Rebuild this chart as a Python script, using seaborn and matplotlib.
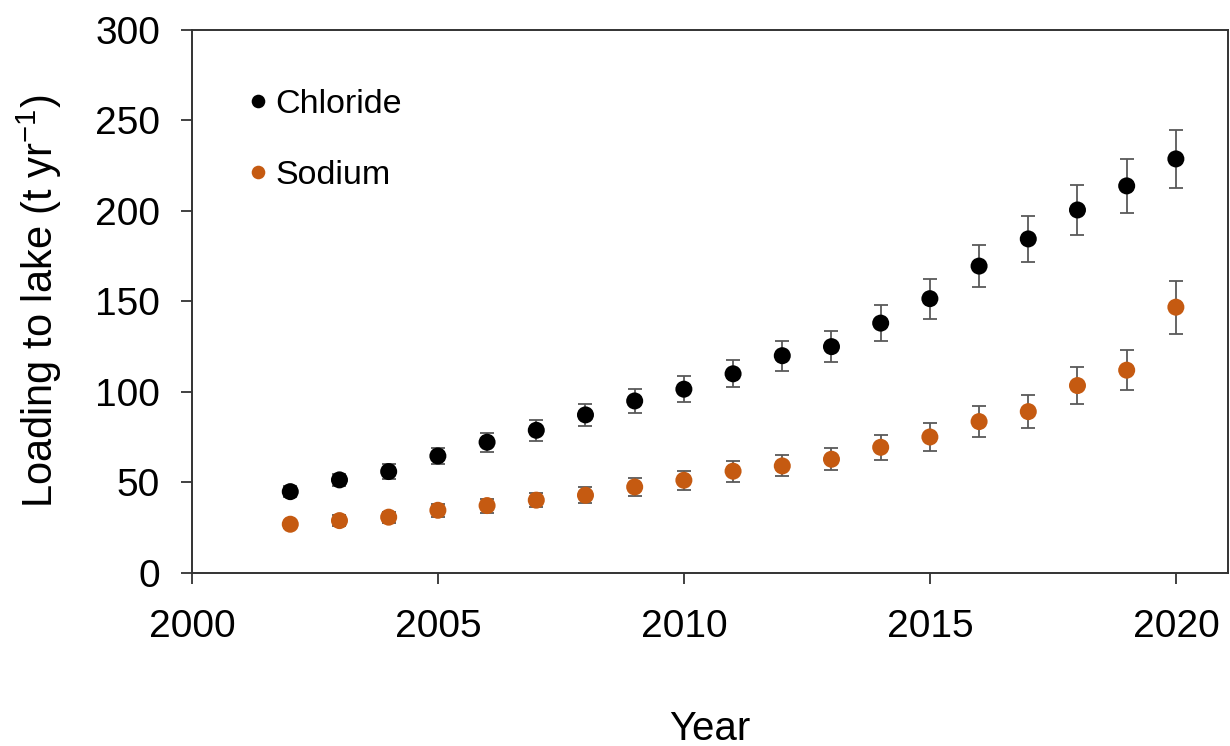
import numpy as np
import pandas as pd
import matplotlib
matplotlib.use("Agg")
import matplotlib.pyplot as plt
import seaborn as sns

years = list(range(2002, 2021))
chloride = [44.9, 51.4, 56.0, 64.6, 72.2, 78.8, 87.3, 95.0, 101.5, 110.0, 120.0, 125.0,
            138.0, 151.5, 169.5, 184.5, 200.5, 213.8, 228.7]
chloride_err = [3.0, 3.4, 4.0, 4.4, 5.2, 5.7, 6.2, 6.7, 7.1, 7.5, 8.3, 8.5,
                10.0, 11.0, 11.7, 12.7, 14.0, 15.0, 16.0]
sodium = [26.9, 28.9, 30.8, 34.6, 37.2, 40.2, 42.9, 47.5, 51.2, 56.2, 59.1, 62.8,
          69.4, 75.1, 83.6, 89.1, 103.5, 112.0, 146.8]
sodium_err = [2.0, 3.0, 3.1, 3.5, 3.9, 4.0, 4.3, 4.8, 5.2, 5.7, 5.8, 6.2,
              7.0, 7.6, 8.5, 9.0, 10.4, 10.9, 14.6]
series_names = ["Chloride", "Sodium"]
series_colors = ["#000000", "#C55A11"]

df = pd.DataFrame({
    "Year": years * 2,
    "Load": chloride + sodium,
    "Err": chloride_err + sodium_err,
    "Ion": [series_names[0]] * len(years) + [series_names[1]] * len(years),
})

sns.set_style("white")
plt.rcParams["font.family"] = ["Liberation Sans", "DejaVu Sans"]
plt.rcParams["text.color"] = "black"
plt.rcParams["axes.labelcolor"] = "black"
plt.rcParams["xtick.color"] = "black"
plt.rcParams["ytick.color"] = "black"

fig = plt.figure(figsize=(12.3, 7.46), dpi=100)
ax = fig.add_axes([0.156, 0.232, 0.842, 0.728])

for name, col in zip(series_names, series_colors):
    sub = df[df["Ion"] == name]
    ax.errorbar(sub["Year"], sub["Load"], yerr=sub["Err"], fmt="none",
                ecolor="#595959", elinewidth=1.3, capsize=5, capthick=1.3, zorder=2)

sns.scatterplot(data=df, x="Year", y="Load", hue="Ion", palette=series_colors,
                s=150, edgecolor="none", ax=ax, zorder=3)

ax.set_xlim(2000, 2021.05)
ax.set_ylim(0, 300)
ax.set_xticks([2000, 2005, 2010, 2015, 2020])
ax.set_yticks([0, 50, 100, 150, 200, 250, 300])
ax.tick_params(axis="both", which="major", labelsize=28, length=8, width=1.3,
               direction="out", color="#333333", bottom=True, left=True)
ax.tick_params(axis="x", pad=18)
ax.tick_params(axis="y", pad=15)
for sp in ax.spines.values():
    sp.set_visible(True)
    sp.set_color("#333333")
    sp.set_linewidth(1.4)

ax.set_xlabel("Year", fontsize=29, labelpad=47)
ax.set_ylabel("Loading to lake (t yr$^{\\mathregular{-1}}$)", fontsize=30, labelpad=22)

leg = ax.legend(loc="upper left", bbox_to_anchor=(0.0376, 0.922), frameon=False,
                fontsize=24.5, labelspacing=1.17, handletextpad=0.2, handlelength=0.6,
                borderpad=0, markerscale=0.8, title=None)

fig.savefig("out.png", dpi=100)
